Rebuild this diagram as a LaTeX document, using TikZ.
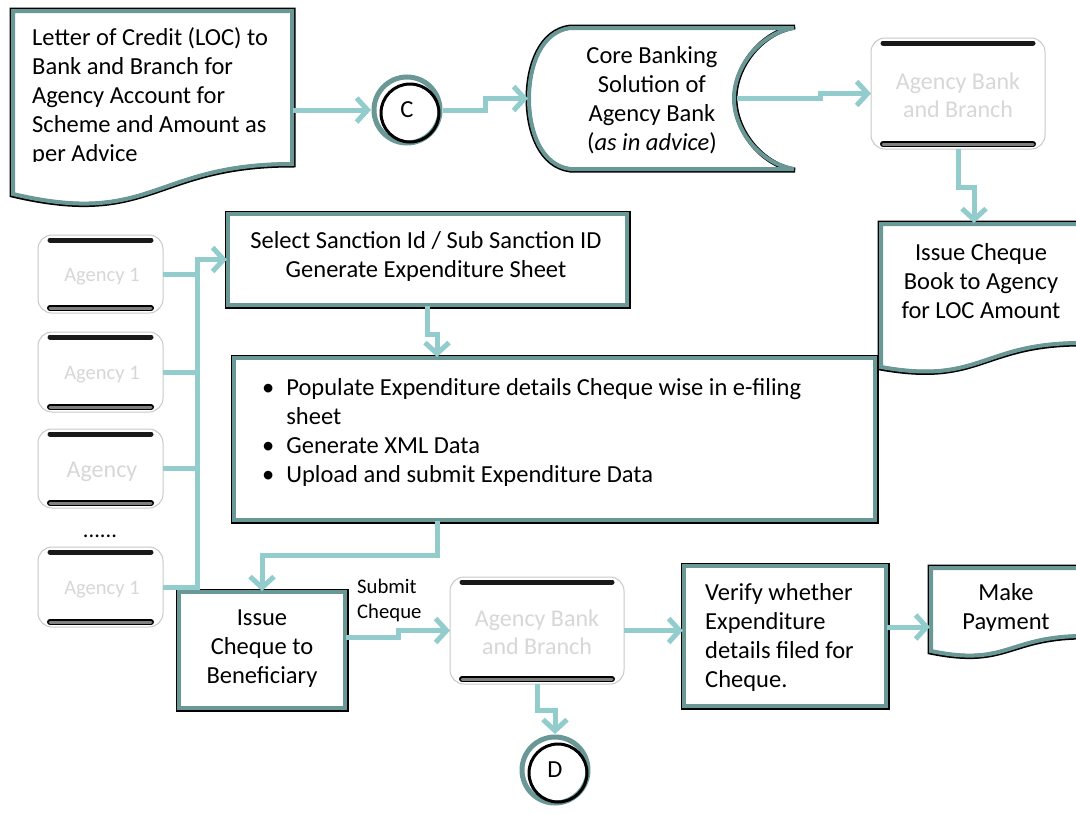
\documentclass[tikz,border=0pt]{standalone}
\usepackage{fontspec}
\setmainfont{Carlito}
\usetikzlibrary{arrows.meta}
\definecolor{tealdk}{RGB}{106,152,150}
\definecolor{tealcn}{RGB}{146,204,204}
\definecolor{ghostline}{RGB}{200,200,200}
\definecolor{ghosttext}{RGB}{215,215,215}
\tikzset{
  conn/.style={draw=tealcn, line width=5pt, -{Straight Barb[length=11pt,width=24pt]}},
  connplain/.style={draw=tealcn, line width=5pt},
  anch/.style={inner sep=0pt, outer sep=0pt},
  body/.style={inner sep=0pt, font=\fontsize{24.5pt}{29pt}\selectfont},
  small/.style={inner sep=0pt, font=\fontsize{20.7pt}{25pt}\selectfont},
  ghost/.style={inner sep=0pt, align=center, text=ghosttext, font=\fontsize{24pt}{28pt}\selectfont},
  ghosts/.style={inner sep=0pt, align=center, text=ghosttext, font=\fontsize{20.5pt}{25pt}\selectfont},
  bord/.style={draw=black, line width=5pt},
  tealb/.style={draw=tealdk, line width=4pt},
}
\newcommand{\tstr}{\rule{0pt}{19pt}}
\newcommand{\tstrs}{\rule{0pt}{16pt}}
\newcommand{\tbox}[4]{%
  \path[bord] (#1,#2) rectangle (#3,#4);
  \path[tealb] (#1+1,#2+1) rectangle (#3-1,#4-1);}
\newcommand{\docshape}[6]{% x1 y1 x2 yl yr c2y
  \path[bord] (#1,#2) -- (#3,#2) -- (#3,#5) .. controls ({(#1+#3)/2},#5) and ({(#1+#3)/2},#6) .. (#1,#4) -- cycle;
  \path[tealb] (#1+1,#2+1) -- (#3-1,#2+1) -- (#3-1,#5-1) .. controls ({(#1+#3)/2},#5-1) and ({(#1+#3)/2},#6-1) .. (#1+1,#4-1) -- cycle;}
\newcommand{\agbox}[4]{% x1 y1 x2 y2
  \draw[ghostline, line width=1pt, rounded corners=14pt] (#1,#2) rectangle (#3,#4);
  \draw[black!90, line width=5pt, line cap=round] (#1+12,#2+5) -- (#3-12,#2+5);
  \draw[black, line width=6pt, line cap=round] (#1+12,#4-5) -- (#3-12,#4-5);
  \draw[gray, line width=3pt, line cap=round] (#1+12,#4-5) -- (#3-12,#4-5);}
\begin{document}
\begin{tikzpicture}[x=1pt,y=-1pt]
\useasboundingbox (0,0) rectangle (1076,814);
\fill[white] (0,0) rectangle (1076,814);

% ---------- shapes ----------
\docshape{12}{10}{293}{195}{165}{228}
\docshape{880}{223}{1082}{368}{344}{386}
\docshape{930}{567}{1085}{652}{637}{668}

% core banking (stored data)
\path[bord] (570,27) -- (795,27) .. controls (762,32) and (735,66) .. (735,98.5) .. controls (735,131) and (762,165) .. (795,170) -- (570,170) .. controls (540,166) and (528,131) .. (528,98.5) .. controls (528,66) and (540,31) .. (570,27) -- cycle;
\path[tealb] (570,28) -- (794,28) .. controls (761,33) and (734,66) .. (734,98.5) .. controls (734,131) and (761,164) .. (794,169) -- (570,169) .. controls (541,165) and (529,131) .. (529,98.5) .. controls (529,66) and (541,32) .. (570,28) -- cycle;

\tbox{227}{213}{628}{306}
\tbox{233}{357}{876}{521}
\tbox{178}{591}{346}{709}
\tbox{683}{565}{887}{707}

\agbox{871}{38}{1045}{149}
\agbox{450}{577}{624}{684}
\agbox{38}{235}{163}{313}
\agbox{38}{332}{163}{412}
\agbox{38}{429}{163}{508}
\agbox{38}{547}{163}{627}

% circles
\draw[tealdk, line width=5pt] (407,110) circle[radius=33];
\draw[black, line width=3pt] (410,113) circle[radius=29];
\draw[tealdk, line width=5pt] (555,770) circle[radius=33];
\draw[black, line width=3pt] (558,773) circle[radius=29];

% ---------- anchor nodes ----------
\node[anch, minimum width=281pt, minimum height=185pt] (loc) at (152.5,102.5) {};
\node[anch, circle, minimum size=72pt, font=\fontsize{24.5pt}{29pt}\selectfont] (cC) at (407,110) {C};
\node[anch, minimum width=267pt, minimum height=143pt] (cbs) at (661.5,98.5) {};
\node[anch, minimum width=174pt, minimum height=111pt] (ab1) at (958,93.5) {};
\node[anch, minimum width=202pt, minimum height=145pt] (icb) at (981,295.5) {};
\node[anch, minimum width=401pt, minimum height=93pt] (sel) at (427.5,259.5) {};
\node[anch, minimum width=643pt, minimum height=164pt] (bul) at (554.5,439) {};
\node[anch, minimum width=125pt, minimum height=78pt] (ag1) at (100.5,274) {};
\node[anch, minimum width=125pt, minimum height=80pt] (ag2) at (100.5,372) {};
\node[anch, minimum width=125pt, minimum height=79pt] (ag3) at (100.5,468.5) {};
\node[anch, minimum width=125pt, minimum height=80pt] (ag4) at (100.5,587) {};
\node[anch, minimum width=168pt, minimum height=118pt] (icben) at (262,650) {};
\node[anch, minimum width=174pt, minimum height=107pt] (ab2) at (537,630.5) {};
\node[anch, minimum width=204pt, minimum height=142pt] (ver) at (785,636) {};
\node[anch, minimum width=155pt, minimum height=85pt] (mp) at (1007.5,609.5) {};
\node[anch, circle, minimum size=72pt, font=\fontsize{24.5pt}{29pt}\selectfont] (cD) at (555,770) {D};

% ---------- texts ----------
\begin{scope}
\clip (0,0) rectangle (300,161);
\node[body, align=left, anchor=north west] (loct) at (32,26) {\tstr Letter of Credit (LOC) to\\Bank and Branch for\\Agency Account for\\Scheme and Amount as\\per Advice};
\end{scope}
\node[body, align=center, anchor=north] (cbst) at (652,44) {\tstr Core Banking\\Solution of\\Agency Bank\\(\textit{as in advice})};
\node[ghost, anchor=north] (ab1t) at (958,71) {\rule{0pt}{18pt}Agency Bank\\and Branch};
\node[body, align=center, anchor=north] (icbt) at (981,241) {\tstr Issue Cheque\\Book to Agency\\for LOC Amount};
\node[body, align=center, anchor=north] (selt) at (426,229) {\tstr Select Sanction Id / Sub Sanction ID\\Generate Expenditure Sheet};
\node[body, anchor=north west] (bult) at (262,375) {\begin{tabular}{@{}l@{\hspace{12pt}}l@{}}\textbullet & Populate Expenditure details Cheque wise in e-filing\\ & sheet\\ \textbullet & Generate XML Data\\ \textbullet & Upload and submit Expenditure Data\end{tabular}};
\node[ghosts, anchor=north] (ag1t) at (102,266) {\rule{0pt}{15pt}Agency 1};
\node[ghosts, anchor=north] (ag2t) at (102,364) {\rule{0pt}{15pt}Agency 1};
\node[ghost, anchor=north] (ag3t) at (102,459) {\rule{0pt}{18pt}Agency};
\node[ghosts, anchor=north] (ag4t) at (102,579) {\rule{0pt}{15pt}Agency 1};
\node[inner sep=0pt, anchor=base, font=\fontsize{22.5pt}{27pt}\selectfont] (dots) at (100,537) {......};
\node[body, align=center, anchor=north] (icbent) at (262,606) {\tstr Issue\\Cheque to\\Beneficiary};
\node[small, align=left, anchor=north west] (submit) at (357,577) {\tstrs Submit\\Cheque};
\node[ghost, anchor=north] (ab2t) at (537,608) {\rule{0pt}{18pt}Agency Bank\\and Branch};
\node[body, align=left, anchor=north west] (vert) at (705,581) {\tstr Verify whether\\Expenditure\\details filed for\\Cheque.};
\begin{scope}
\clip (930,560) rectangle (1076,630);
\node[body, align=center, anchor=north] (mpt) at (1006,581) {\tstr Make\\Payment};
\end{scope}

% ---------- connectors ----------
\draw[conn] (loc.east |- cC.west) -- (cC.west);
\draw[conn] (cC.east) -- (485,110) |- (cbs.west);
\coordinate (cbsR) at (737,98.5);
\draw[conn] (cbsR) -- (820,98.5) |- (ab1.west);
\draw[conn] (ab1.south) -- ++(0,38) -| ([xshift=-7pt]icb.north);
\coordinate (bus) at (197,259.5);
\draw[connplain] (ag1.east) -- (ag1.east -| bus);
\draw[connplain] (ag2.east) -- (ag2.east -| bus);
\draw[connplain] (ag3.east) -- (ag3.east -| bus);
\draw[conn] (ag4.east) -| (bus) -- (sel.west);
\draw[conn] (sel.south) -- ++(0,28) -| (437,0 |- bul.north);
\draw[conn] (437,0 |- bul.south) -- (437,555) -| (icben.north);
\draw[conn] (icben.east |- 0,637) -- (398,637) |- (ab2.west);
\draw[conn] (ab2.south) -- ++(0,26) -| (cD.north);
\draw[conn] (ab2.east) -- (ab2.east -| ver.west);
\draw[conn] (ver.east |- 0,627) -- (mp.west |- 0,627);
\end{tikzpicture}
\end{document}
